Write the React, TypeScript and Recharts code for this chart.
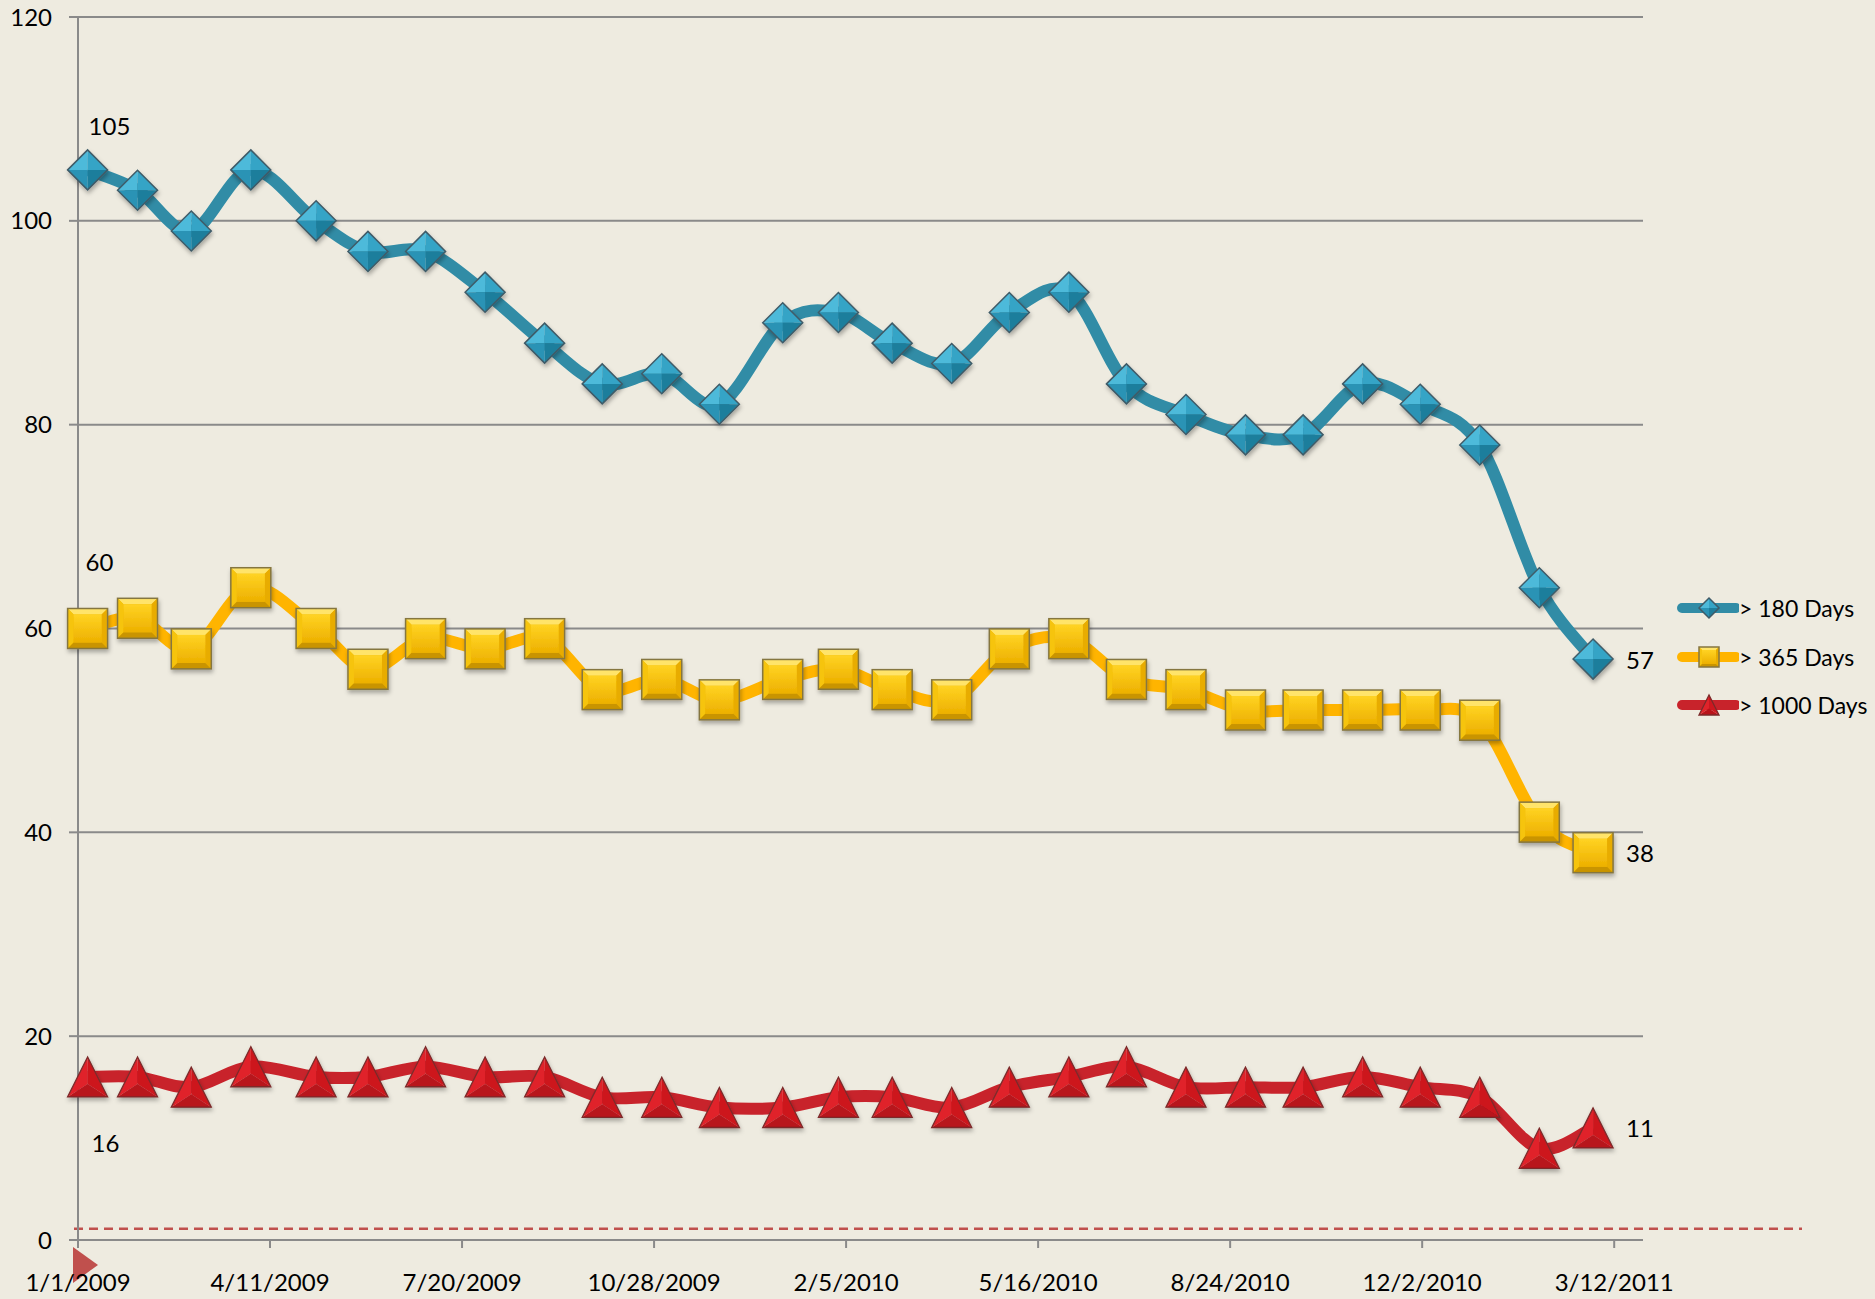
import React from 'react';
import { LineChart, Line, XAxis, YAxis, CartesianGrid, ReferenceLine, ReferenceDot, LabelList } from 'recharts';

// month-by-month snapshot dates
const dates = [
  '1/6/2009', '2/1/2009', '3/1/2009', '4/1/2009', '5/5/2009', '6/1/2009', '7/1/2009', '8/1/2009', '9/1/2009',
  '10/1/2009', '11/1/2009', '12/1/2009', '1/3/2010', '2/1/2010', '3/1/2010', '4/1/2010', '5/1/2010', '6/1/2010',
  '7/1/2010', '8/1/2010', '9/1/2010', '10/1/2010', '11/1/2010', '12/1/2010', '1/1/2011', '2/1/2011', '3/1/2011',
];
const over180 = [105, 103, 99, 105, 100, 97, 97, 93, 88, 84, 85, 82, 90, 91, 88, 86, 91, 93, 84, 81, 79, 79, 84, 82, 78, 64, 57];
const over365 = [60, 61, 58, 64, 60, 56, 59, 58, 59, 54, 55, 53, 55, 56, 54, 53, 58, 59, 55, 54, 52, 52, 52, 52, 51, 41, 38];
const over1000 = [16, 16, 15, 17, 16, 16, 17, 16, 16, 14, 14, 13, 13, 14, 14, 13, 15, 16, 17, 15, 15, 15, 16, 15, 14, 9, 11];
const seriesNames = ['> 180 Days', '> 365 Days', '> 1000 Days'];
const xTickDates = ['1/1/2009', '4/11/2009', '7/20/2009', '10/28/2009', '2/5/2010', '5/16/2010', '8/24/2010', '12/2/2010', '3/12/2011'];
const yTicks = [0, 20, 40, 60, 80, 100, 120];
const baselineLevel = 1.1;

const FONT = 'Lato, "Open Sans", sans-serif';
const BLUE = '#318CA6';
const GOLD = '#FFB400';
const RED = '#C8232B';

const toDay = (s: string) => {
  const [m, d, y] = s.split('/').map(Number);
  return (Date.UTC(y, m - 1, d) - Date.UTC(2009, 0, 1)) / 86400000;
};

const data = dates.map((d, i) => ({ day: toDay(d), a: over180[i], b: over365[i], c: over1000[i] }));
const xTicks = xTickDates.map(toDay);
const tickLabel = (v: number) => xTickDates[xTicks.indexOf(v)] ?? '';

// Excel-style smoothing (Catmull-Rom as cubic beziers)
const excelSmooth = (context: any) => {
  let pts: number[][] = [];
  return {
    areaStart() {},
    areaEnd() {},
    lineStart() { pts = []; },
    point(x: number, y: number) { pts.push([+x, +y]); },
    lineEnd() {
      const n = pts.length;
      if (!n) return;
      context.moveTo(pts[0][0], pts[0][1]);
      for (let i = 0; i < n - 1; i++) {
        const p0 = pts[Math.max(i - 1, 0)];
        const p1 = pts[i];
        const p2 = pts[i + 1];
        const p3 = pts[Math.min(i + 2, n - 1)];
        context.bezierCurveTo(
          p1[0] + (p2[0] - p0[0]) / 6, p1[1] + (p2[1] - p0[1]) / 6,
          p2[0] - (p3[0] - p1[0]) / 6, p2[1] - (p3[1] - p1[1]) / 6,
          p2[0], p2[1],
        );
      }
    },
  };
};

const Diamond = ({ cx, cy, s = 20, shadow = true }: any) => (
  <g filter={shadow ? 'url(#mk-shadow)' : undefined}>
    <polygon points={`${cx - s},${cy} ${cx},${cy - s} ${cx},${cy}`} fill="#4DBADA" />
    <polygon points={`${cx},${cy - s} ${cx + s},${cy} ${cx},${cy}`} fill="#36A4C6" />
    <polygon points={`${cx + s},${cy} ${cx},${cy + s} ${cx},${cy}`} fill="#1F7E9C" />
    <polygon points={`${cx},${cy + s} ${cx - s},${cy} ${cx},${cy}`} fill="#2A93B5" />
    <polygon points={`${cx - s},${cy} ${cx},${cy - s} ${cx + s},${cy} ${cx},${cy + s}`} fill="none" stroke="#3F5B68" strokeWidth={1.5} />
  </g>
);

const Square = ({ cx, cy, s = 20, shadow = true }: any) => {
  const b = s * 0.3;
  return (
    <g filter={shadow ? 'url(#mk-shadow)' : undefined}>
      <rect x={cx - s} y={cy - s} width={2 * s} height={2 * s} fill="#F0B800" />
      <polygon points={`${cx - s},${cy - s} ${cx + s},${cy - s} ${cx + s - b},${cy - s + b} ${cx - s + b},${cy - s + b}`} fill="#FFE46A" />
      <polygon points={`${cx - s},${cy - s} ${cx - s + b},${cy - s + b} ${cx - s + b},${cy + s - b} ${cx - s},${cy + s}`} fill="#F6C40E" />
      <polygon points={`${cx + s},${cy - s} ${cx + s - b},${cy - s + b} ${cx + s - b},${cy + s - b} ${cx + s},${cy + s}`} fill="#E8AC00" />
      <polygon points={`${cx - s},${cy + s} ${cx + s},${cy + s} ${cx + s - b},${cy + s - b} ${cx - s + b},${cy + s - b}`} fill="#C99400" />
      <rect x={cx - s + b} y={cy - s + b} width={2 * (s - b)} height={2 * (s - b)} fill="url(#sq-face)" />
      <rect x={cx - s} y={cy - s} width={2 * s} height={2 * s} fill="none" stroke="#857640" strokeWidth={1.5} />
    </g>
  );
};

const Triangle = ({ cx, cy, s = 20, shadow = true }: any) => {
  const top = cy - s;
  const base = cy + s;
  const mid = cy + s * 0.35;
  return (
    <g filter={shadow ? 'url(#mk-shadow)' : undefined}>
      <polygon points={`${cx},${top} ${cx - s},${base} ${cx},${mid}`} fill="#E0232A" />
      <polygon points={`${cx},${top} ${cx + s},${base} ${cx},${mid}`} fill="#CD171F" />
      <polygon points={`${cx - s},${base} ${cx + s},${base} ${cx},${mid}`} fill="#B8131A" />
      <polygon points={`${cx},${top} ${cx - s},${base} ${cx + s},${base}`} fill="none" stroke="#7C2A2A" strokeWidth={1.3} />
    </g>
  );
};

const dotOf = (Shape: any) => (p: any) => <Shape key={`mk-${p.index}`} cx={p.cx} cy={p.cy} />;

const labelOf = (firstDx: number, firstDy: number) => (p: any) => {
  const { x, y, value, index } = p;
  let tx = 0;
  let ty = 0;
  if (index === 0) {
    tx = x + firstDx;
    ty = y + firstDy;
  } else if (index === dates.length - 1) {
    tx = x + 33;
    ty = y;
  } else {
    return null;
  }
  return (
    <text key={`lb-${index}`} x={tx} y={ty} dominantBaseline="central" fontFamily={FONT} fontSize={24} fill="#000">
      {value}
    </text>
  );
};

const legendRows = [
  { name: seriesNames[0], color: BLUE, Marker: Diamond },
  { name: seriesNames[1], color: GOLD, Marker: Square },
  { name: seriesNames[2], color: RED, Marker: Triangle },
];

export default function App() {
  return (
    <div style={{ position: 'absolute', left: 0, top: 0, width: 1875, height: 1299, background: '#EEEBE0', overflow: 'hidden' }}>
      <LineChart width={1875} height={1299} data={data} margin={{ top: 17, right: 232, bottom: 0, left: 0 }}>
        <defs>
          <filter id="mk-shadow" x="-50%" y="-50%" width="200%" height="200%">
            <feDropShadow dx="1" dy="3" stdDeviation="2" floodColor="#000" floodOpacity="0.3" />
          </filter>
          <linearGradient id="sq-face" x1="0" y1="0" x2="0" y2="1">
            <stop offset="0%" stopColor="#FFD323" />
            <stop offset="100%" stopColor="#EDB000" />
          </linearGradient>
        </defs>
        <CartesianGrid vertical={false} stroke="#8A8A8A" strokeWidth={2} />
        <XAxis
          dataKey="day"
          type="number"
          domain={[0, 815]}
          ticks={xTicks}
          tickFormatter={tickLabel}
          height={59}
          tickSize={8}
          tickMargin={26}
          stroke="#8A8A8A"
          strokeWidth={2}
          tick={{ fontFamily: FONT, fontSize: 24, fill: '#000' }}
          interval={0}
        />
        <YAxis
          domain={[0, 120]}
          ticks={yTicks}
          width={78}
          tickSize={9}
          tickMargin={17}
          stroke="#8A8A8A"
          strokeWidth={2}
          tick={{ fontFamily: FONT, fontSize: 24, fill: '#000' }}
          interval={0}
        />
        <ReferenceLine
          y={baselineLevel}
          shape={(p: any) => (
            <line x1={p.x1 - 4} y1={p.y1} x2={p.x2 + 159} y2={p.y2} stroke="#C0504D" strokeWidth={2.5} strokeDasharray="9 6" />
          )}
        />
        <ReferenceDot
          x={0}
          y={-2.45}
          ifOverflow="visible"
          shape={(p: any) => (
            <polygon points={`${p.cx - 5},${p.cy - 18} ${p.cx + 20},${p.cy} ${p.cx - 5},${p.cy + 18}`} fill="#C0504D" />
          )}
        />
        <Line dataKey="a" name={seriesNames[0]} type={excelSmooth as any} stroke={BLUE} strokeWidth={12} dot={dotOf(Diamond)} activeDot={false} isAnimationActive={false}>
          <LabelList dataKey="a" content={labelOf(1, -44)} />
        </Line>
        <Line dataKey="b" name={seriesNames[1]} type={excelSmooth as any} stroke={GOLD} strokeWidth={12} dot={dotOf(Square)} activeDot={false} isAnimationActive={false}>
          <LabelList dataKey="b" content={labelOf(-2, -67)} />
        </Line>
        <Line dataKey="c" name={seriesNames[2]} type={excelSmooth as any} stroke={RED} strokeWidth={12} dot={dotOf(Triangle)} activeDot={false} isAnimationActive={false}>
          <LabelList dataKey="c" content={labelOf(4, 66)} />
        </Line>
      </LineChart>
      <div style={{ position: 'absolute', left: 1672, top: 584, fontFamily: FONT, fontSize: 23, color: '#000' }}>
        {legendRows.map((r) => (
          <div key={r.name} style={{ height: 48.5, display: 'flex', alignItems: 'center' }}>
            <svg width={67} height={30} style={{ display: 'block' }}>
              <line x1={10} y1={15} x2={64} y2={15} stroke={r.color} strokeWidth={10} strokeLinecap="round" />
              <r.Marker cx={37} cy={15} s={10} shadow={false} />
            </svg>
            <span style={{ whiteSpace: 'nowrap' }}>{r.name}</span>
          </div>
        ))}
      </div>
    </div>
  );
}
